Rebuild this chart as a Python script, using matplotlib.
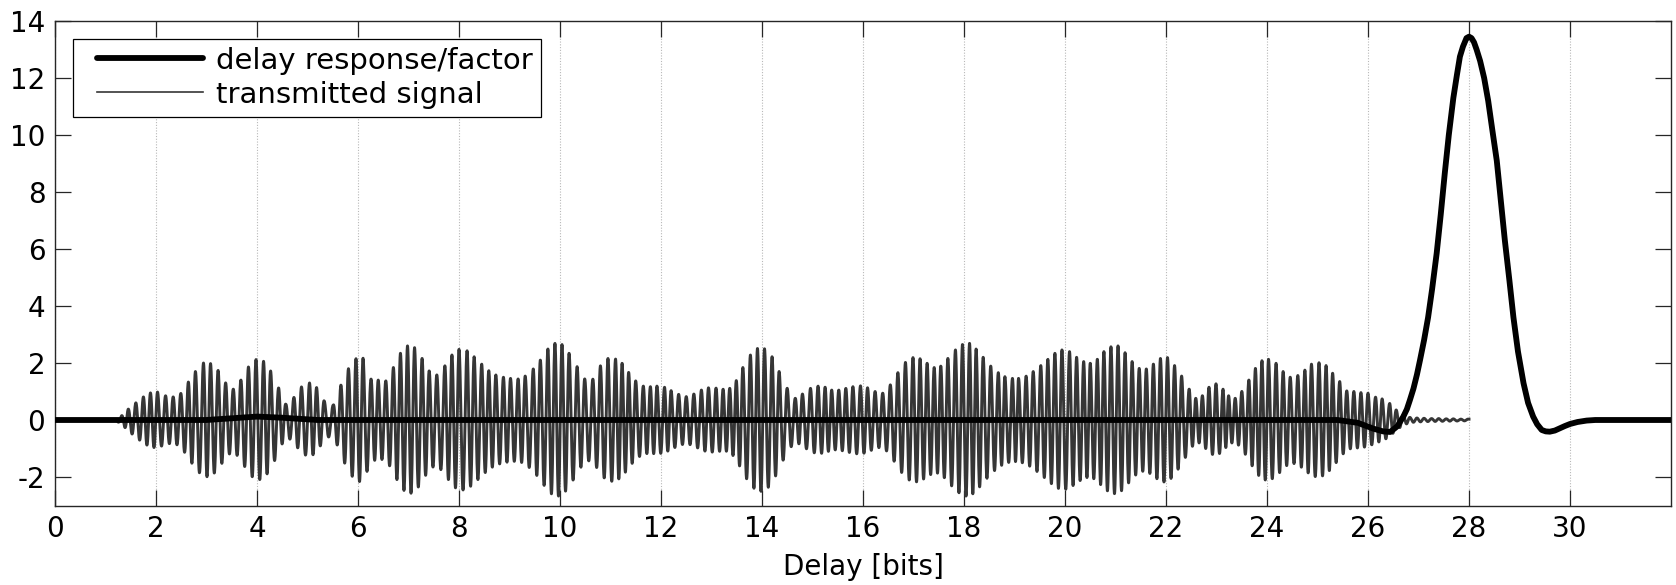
import numpy as np
import matplotlib
matplotlib.use("Agg")
import matplotlib.pyplot as plt
from matplotlib.legend_handler import HandlerLine2D

# Transmitted signal: carrier peak times [bits] and envelope amplitude at each peak
sig_peak_t = [
    1.18, 1.32, 1.45, 1.60, 1.75, 1.89, 2.03, 2.19, 2.34, 2.49, 2.64, 2.78, 2.94,
    3.08, 3.23, 3.38, 3.53, 3.68, 3.83, 3.98, 4.13, 4.27, 4.43, 4.57, 4.73,
    4.88, 5.04, 5.18, 5.33, 5.51, 5.66, 5.81, 5.96, 6.10, 6.26, 6.40, 6.55,
    6.70, 6.84, 6.98, 7.12, 7.27, 7.41, 7.56, 7.72, 7.86, 8.00, 8.16, 8.30,
    8.45, 8.59, 8.73, 8.88, 9.02, 9.17, 9.31, 9.47, 9.61, 9.76, 9.90, 10.04,
    10.18, 10.34, 10.49, 10.65, 10.80, 10.95, 11.10, 11.23, 11.36, 11.50,
    11.65, 11.79, 11.92, 12.07, 12.20, 12.35, 12.50, 12.65, 12.80, 12.94,
    13.09, 13.23, 13.36, 13.49, 13.62, 13.77, 13.91, 14.05, 14.20, 14.34,
    14.50, 14.66, 14.80, 14.96, 15.11, 15.25, 15.38, 15.52, 15.66, 15.80,
    15.95, 16.09, 16.24, 16.39, 16.54, 16.69, 16.84, 16.99, 17.13, 17.27,
    17.41, 17.54, 17.68, 17.83, 17.97, 18.11, 18.24, 18.38, 18.53, 18.68,
    18.81, 18.96, 19.08, 19.23, 19.37, 19.52, 19.66, 19.80, 19.94, 20.09,
    20.23, 20.37, 20.50, 20.64, 20.77, 20.91, 21.05, 21.19, 21.33, 21.47,
    21.61, 21.75, 21.89, 22.03, 22.17, 22.31, 22.46, 22.59, 22.72, 22.85,
    22.99, 23.13, 23.24, 23.37, 23.50, 23.64, 23.77, 23.90, 24.03, 24.18,
    24.32, 24.46, 24.61, 24.75, 24.88, 25.03, 25.17, 25.30, 25.44, 25.58,
    25.72, 25.86, 26.00, 26.15, 26.28, 26.43, 26.56, 26.70, 26.83, 26.97,
    27.11, 27.26, 27.40, 27.55, 27.69, 27.84, 27.98,
]
sig_peak_a = [
    0.00, 0.15, 0.38, 0.60, 0.81, 0.95, 0.98, 0.85, 0.81, 0.93, 1.33, 1.70, 2.00,
    1.98, 1.74, 1.30, 1.08, 1.40, 1.86, 2.12, 2.06, 1.72, 1.12, 0.55, 0.79,
    1.16, 1.30, 1.14, 0.67, 0.52, 1.22, 1.80, 2.15, 2.17, 1.43, 1.40, 1.37,
    1.84, 2.34, 2.60, 2.54, 2.16, 1.72, 1.58, 1.90, 2.28, 2.48, 2.43, 2.22,
    1.96, 1.73, 1.58, 1.50, 1.46, 1.44, 1.54, 1.79, 2.10, 2.49, 2.69, 2.65,
    2.34, 1.87, 1.44, 1.43, 1.90, 2.16, 2.14, 1.99, 1.67, 1.37,
    1.19, 1.17, 1.19, 1.15, 1.03, 0.90, 0.82, 0.91, 1.05, 1.13,
    1.12, 1.08, 1.11, 1.38, 1.84, 2.28, 2.51, 2.50, 2.22, 1.70,
    1.11, 0.76, 0.91, 1.11, 1.19, 1.15, 1.05, 1.05, 1.11, 1.17,
    1.20, 1.13, 1.00, 0.94, 1.23, 1.66, 2.02, 2.19, 2.15, 1.99,
    1.84, 1.89, 2.16, 2.46, 2.65, 2.69, 2.49, 2.20, 1.89, 1.66,
    1.52, 1.46, 1.46, 1.54, 1.70, 1.91, 2.13, 2.34, 2.46, 2.40,
    2.20, 2.05, 1.99, 2.13, 2.40, 2.57, 2.60, 2.36, 2.05, 1.81,
    1.79, 1.96, 2.16, 2.19, 1.91, 1.54, 1.08, 0.76, 0.85, 1.15,
    1.27, 1.08, 0.85, 0.76, 1.00, 1.40, 1.81, 2.08, 2.13, 1.99,
    1.70, 1.50, 1.56, 1.75, 1.96, 2.01, 1.91, 1.64, 1.35, 1.02,
    1.00, 0.96, 0.94, 0.80, 0.74, 0.58, 0.35, 0.18, 0.09, 0.07,
    0.06, 0.05, 0.05, 0.04, 0.04, 0.03, 0.03,
]
sig_span = [0.0, 28.0]

# Delay response / factor curve
resp_t = [0.0, 3.0, 3.5, 4.0, 4.5, 5.2, 25.4, 25.8, 26.1, 26.3, 26.44, 26.58,
          26.70, 26.77, 26.83, 26.90, 26.97, 27.03, 27.11, 27.19, 27.27, 27.36,
          27.44, 27.52, 27.60, 27.69, 27.76, 27.82, 27.88, 27.95, 28.00, 28.05,
          28.10, 28.15, 28.22, 28.30, 28.38, 28.46, 28.55, 28.63, 28.71, 28.80,
          28.88, 28.97, 29.08, 29.17, 29.27, 29.35, 29.44, 29.52, 29.60, 29.70,
          29.80, 29.90, 30.00, 30.15, 30.33, 30.50, 30.70, 32.0]
resp_v = [0.0, 0.0, 0.06, 0.12, 0.08, 0.0, 0.0, -0.10, -0.30, -0.40, -0.42, -0.22,
          0.12, 0.38, 0.70, 1.10, 1.60, 2.10, 2.80, 3.60, 4.60, 5.85,
          7.20, 8.65, 10.00, 11.30, 12.10, 12.75, 13.10, 13.40, 13.45, 13.40,
          13.25, 13.00, 12.60, 12.00, 11.20, 10.20, 9.10, 7.70, 6.30, 4.90,
          3.60, 2.40, 1.29, 0.60, 0.12, -0.15, -0.35, -0.40, -0.41, -0.37,
          -0.29, -0.21, -0.14, -0.07, -0.02, 0.0, 0.0, 0.0]

x_ticks = list(range(0, 31, 2))
y_ticks = list(range(-2, 15, 2))
x_lim = (0, 32)
y_lim = (-3, 14)

plt.rcParams['font.family'] = ['DejaVu Sans']
plt.rcParams['axes.unicode_minus'] = False
FS = 20
LEG_FS = 21

fig = plt.figure(figsize=(16.76, 5.85), dpi=100)
ax = fig.add_axes([55 / 1676, 1 - 505.5 / 585, 1616 / 1676, 484.5 / 585])

# modulated carrier: envelope and phase follow the peak list
t = np.linspace(sig_span[0], sig_span[1], 14000)
cycle_idx = np.arange(len(sig_peak_t), dtype=float)
phase = 2 * np.pi * np.interp(t, sig_peak_t, cycle_idx)
env = np.interp(t, sig_peak_t, sig_peak_a, left=0.0, right=sig_peak_a[-1])
signal = env * np.cos(phase)

ax.plot(t, signal, color='#363636', lw=2.1, zorder=2, label='transmitted signal')
ax.plot(resp_t, resp_v, color='black', lw=4.2, zorder=3,
        solid_joinstyle='round', solid_capstyle='round',
        label='delay response/factor')

ax.set_xlim(*x_lim)
ax.set_ylim(*y_lim)
ax.set_xticks(x_ticks)
ax.set_yticks(y_ticks)
ax.xaxis.grid(True, linestyle=(0, (1, 1.5)), color='#b8b8b8', lw=0.8)
ax.set_axisbelow(True)
ax.tick_params(direction='in', length=11.5, width=0.9, top=True, right=True,
               labelsize=FS, pad=7, colors='#262626', labelcolor='black')
for s in ax.spines.values():
    s.set_linewidth(1.0)
    s.set_color('#262626')
ax.set_xlabel('Delay [bits]', fontsize=FS, labelpad=7)

handles, labels = ax.get_legend_handles_labels()
leg = ax.legend(handles[::-1], labels[::-1], loc='upper left', fontsize=LEG_FS,
                fancybox=False, framealpha=1, edgecolor='black',
                handlelength=4.2, handletextpad=0.45, borderaxespad=0.6,
                labelspacing=0.2, borderpad=0.28,
                handler_map={h: HandlerLine2D(xpad=0.55) for h in handles})
leg.get_frame().set_linewidth(0.9)
leg.get_lines()[1].set_linewidth(1.2)

fig.savefig('out.png', dpi=100)
